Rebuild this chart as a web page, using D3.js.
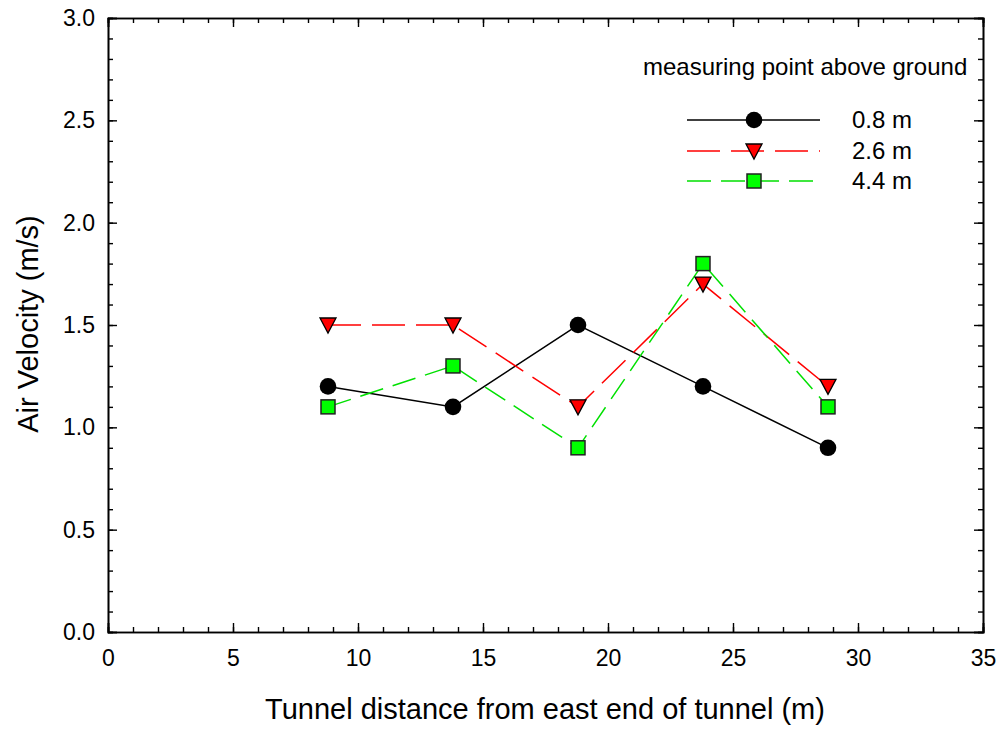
<!DOCTYPE html>
<html><head><meta charset="utf-8">
<script src="https://cdn.jsdelivr.net/npm/d3@7"></script>
<style>body{margin:0;background:#fff}svg{display:block}text{font-family:"Liberation Sans",Arial,sans-serif}</style>
</head><body>
<script>
const distances = [8.8, 13.8, 18.8, 23.8, 28.8];
const v08 = [1.2, 1.1, 1.5, 1.2, 0.9];
const v26 = [1.5, 1.5, 1.1, 1.7, 1.2];
const v44 = [1.1, 1.3, 0.9, 1.8, 1.1];
const seriesNames = ["0.8 m", "2.6 m", "4.4 m"];
const xTicks = [0, 5, 10, 15, 20, 25, 30, 35];
const yTicks = [0, 0.5, 1.0, 1.5, 2.0, 2.5, 3.0];

const W = 1003, H = 730;
const svg = d3.select("body").append("svg").attr("width", W).attr("height", H);
const x = d3.scaleLinear().domain([0, 35]).range([108, 983]);
const y = d3.scaleLinear().domain([0, 3]).range([632, 18]);

const minorX = d3.range(0, 36, 1), minorY = d3.range(0, 3.001, 0.1);
const g = svg.append("g");
g.append("g").attr("transform", `translate(0,${y(0)})`)
  .call(d3.axisBottom(x).tickValues(minorX).tickSize(-5).tickFormat(""));
g.append("g").attr("transform", `translate(0,${y(0)})`)
  .call(d3.axisBottom(x).tickValues(xTicks).tickSize(-9).tickPadding(18).tickFormat(d3.format("d")));
g.append("g").attr("transform", `translate(0,${y(3)})`)
  .call(d3.axisTop(x).tickValues(minorX).tickSize(-5).tickFormat(""));
g.append("g").attr("transform", `translate(0,${y(3)})`)
  .call(d3.axisTop(x).tickValues(xTicks).tickSize(-9).tickFormat(""));
g.append("g").attr("transform", `translate(${x(0)},0)`)
  .call(d3.axisLeft(y).tickValues(minorY).tickSize(-5).tickFormat(""));
g.append("g").attr("transform", `translate(${x(0)},0)`)
  .call(d3.axisLeft(y).tickValues(yTicks).tickSize(-9).tickPadding(13).tickFormat(d3.format(".1f")));
g.append("g").attr("transform", `translate(${x(35)},0)`)
  .call(d3.axisRight(y).tickValues(minorY).tickSize(-5).tickFormat(""));
g.append("g").attr("transform", `translate(${x(35)},0)`)
  .call(d3.axisRight(y).tickValues(yTicks).tickSize(-9).tickFormat(""));
g.selectAll("g").attr("font-size", 23).attr("font-family", "Liberation Sans, Arial, sans-serif");
g.selectAll(".domain").attr("stroke", "#000").attr("stroke-width", 1.6);
g.selectAll(".tick line").attr("stroke", "#000").attr("stroke-width", 1.4);
g.selectAll(".tick text").style("font-size", "23px").attr("fill", "#000");

svg.append("text").attr("x", 545).attr("y", 719).attr("text-anchor", "middle")
  .attr("font-size", 29).text("Tunnel distance from east end of tunnel (m)");
svg.append("text").attr("transform", `translate(38,324) rotate(-90)`).attr("text-anchor", "middle")
  .attr("font-size", 29).text("Air Velocity (m/s)");

const series = [
  {name: seriesNames[0], vals: v08, color: "#000", dash: null, shape: "circle", fill: "#000"},
  {name: seriesNames[1], vals: v26, color: "#ff0000", dash: "33,11", shape: "tri", fill: "#ff0000"},
  {name: seriesNames[2], vals: v44, color: "#00e000", dash: "24,10", shape: "square", fill: "#00ff00"}
];
const line = d3.line().x(d => x(d[0])).y(d => y(d[1]));

function marker(sel, s, cx, cy) {
  if (s.shape === "circle") {
    sel.append("circle").attr("cx", cx).attr("cy", cy).attr("r", 8.3).attr("fill", "#000");
  } else if (s.shape === "tri") {
    sel.append("path").attr("d", `M${cx-8},${cy-7}L${cx+8},${cy-7}L${cx},${cy+8}Z`)
      .attr("fill", s.fill).attr("stroke", "#000").attr("stroke-width", 1.3);
  } else {
    sel.append("rect").attr("x", cx-7).attr("y", cy-7).attr("width", 14).attr("height", 14)
      .attr("fill", s.fill).attr("stroke", "#222").attr("stroke-width", 1.5);
  }
}

series.forEach(s => {
  const pts = distances.map((d, i) => [d, s.vals[i]]);
  svg.append("path").attr("d", line(pts)).attr("fill", "none").attr("stroke", s.color)
    .attr("stroke-width", 1.5).attr("stroke-dasharray", s.dash);
});
series.forEach(s => {
  const gg = svg.append("g");
  distances.forEach((d, i) => marker(gg, s, x(d), y(s.vals[i])));
});

svg.append("text").attr("x", 643).attr("y", 75).attr("font-size", 24).text("measuring point above ground");
const rowY = [120, 151, 181];
series.forEach((s, i) => {
  const gg = svg.append("g");
  gg.append("line").attr("x1", 687).attr("x2", 820).attr("y1", rowY[i]).attr("y2", rowY[i])
    .attr("stroke", s.color).attr("stroke-width", 1.5).attr("stroke-dasharray", s.dash);
  marker(gg, s, 754, rowY[i]);
  gg.append("text").attr("x", 852).attr("y", rowY[i] + 8).attr("font-size", 24).text(s.name);
});
</script>
</body></html>
